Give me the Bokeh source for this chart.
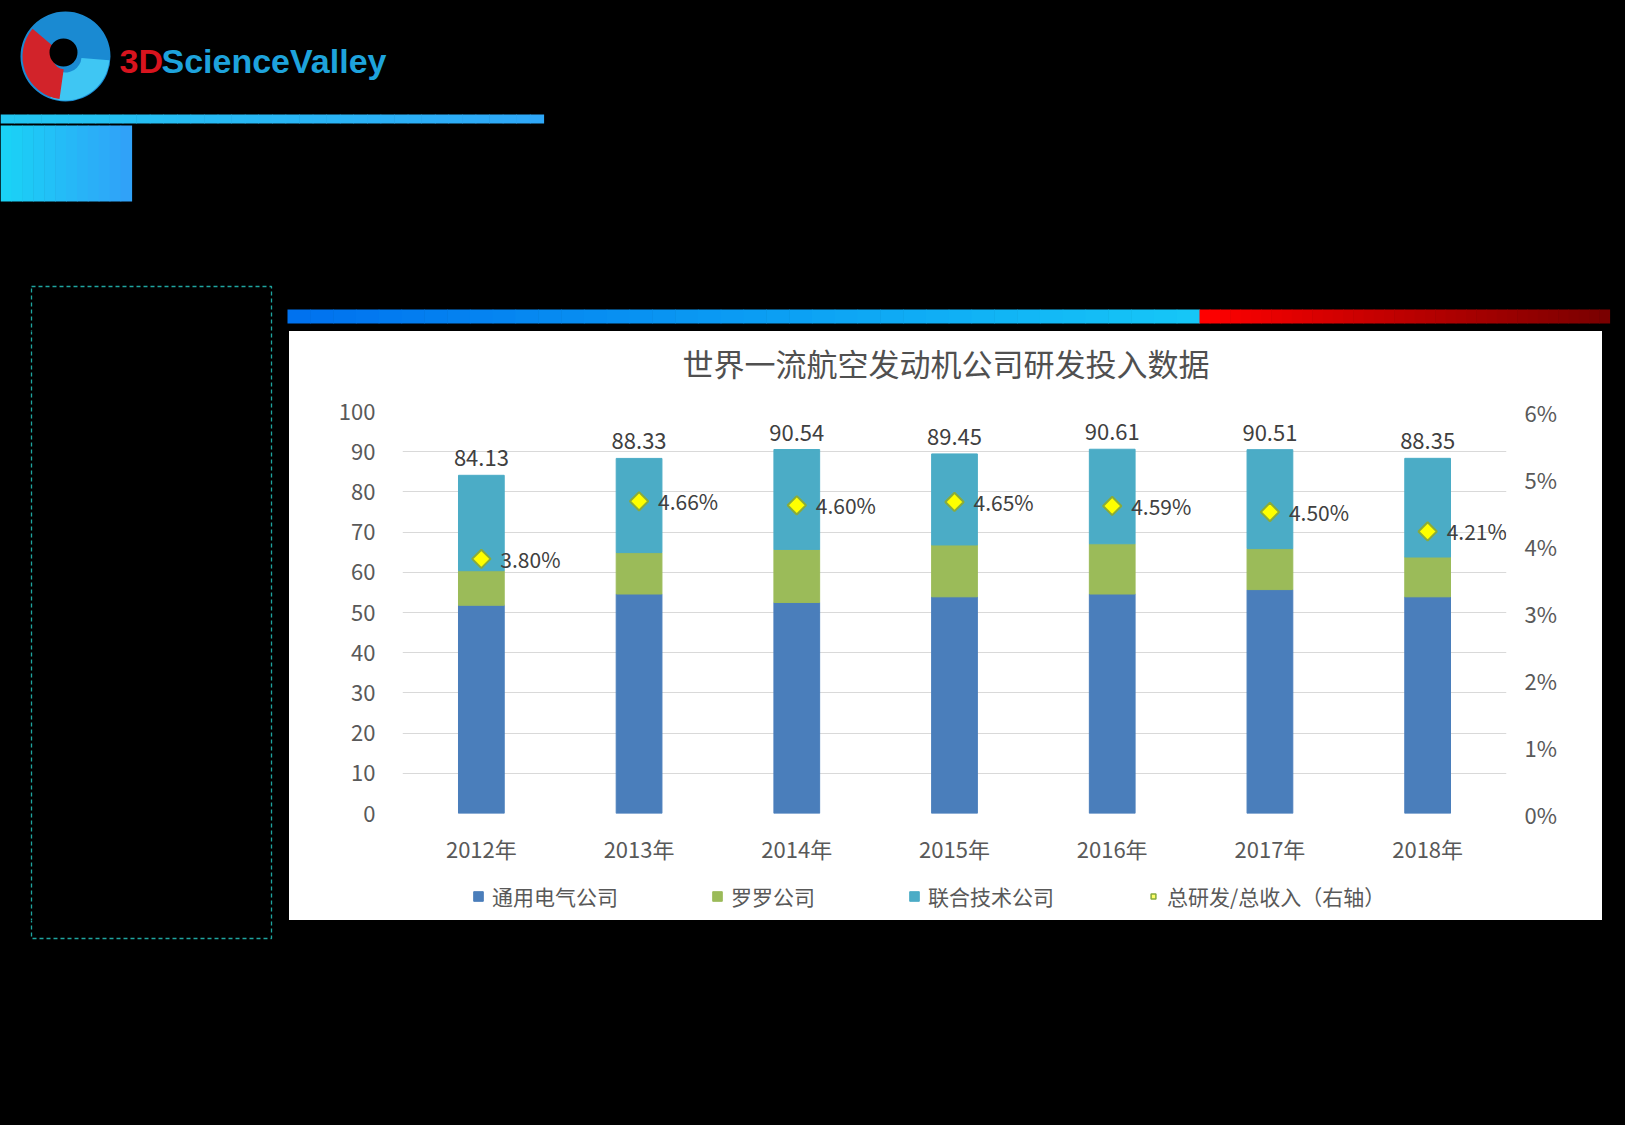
import numpy as np
from bokeh.core.properties import value
from bokeh.embed import file_html
from bokeh.layouts import column, row
from bokeh.models import (ColumnDataSource, FactorRange, FixedTicker, Legend,
                          LegendItem, LinearAxis, NumeralTickFormatter, Range1d)
from bokeh.plotting import figure
from bokeh.resources import INLINE

# --- chart data ---
TITLE = "世界一流航空发动机公司研发投入数据"
YEARS = ["2012年", "2013年", "2014年", "2015年", "2016年", "2017年", "2018年"]
SERIES = ["通用电气公司", "罗罗公司", "联合技术公司"]
RATIO_NAME = "总研发/总收入（右轴）"
GE = [51.8, 54.6, 52.5, 53.9, 54.6, 55.7, 53.9]
RR = [8.6, 10.3, 13.2, 12.9, 12.5, 10.2, 9.9]
UTC = [23.73, 23.43, 24.84, 22.65, 23.51, 24.61, 24.55]
TOTAL = [84.13, 88.33, 90.54, 89.45, 90.61, 90.51, 88.35]
RATIO = [0.0380, 0.0466, 0.0460, 0.0465, 0.0459, 0.0450, 0.0421]
LEFT_TICKS = [0, 10, 20, 30, 40, 50, 60, 70, 80, 90, 100]
RIGHT_TICKS = [0, 0.01, 0.02, 0.03, 0.04, 0.05, 0.06]

COLORS = ["#4a7ebb", "#9bbb59", "#4bacc6"]
TEXT = "#595959"
CJK = "Noto Sans CJK SC"
FONT = value(CJK)

PAGE_W = 1625


def blend(c1, c2, t):
    a = np.array([int(c1[i:i + 2], 16) for i in (1, 3, 5)])
    b = np.array([int(c2[i:i + 2], 16) for i in (1, 3, 5)])
    c = (a + (b - a) * t).round().astype(int)
    return "#%02x%02x%02x" % tuple(c)


def no_align(p):
    try:
        p.frame_align = False
    except AttributeError:
        pass
    return p


def pixel_fig(x0, y0, w, h, fill="black"):
    """Pixel-coordinate figure showing page region [x0, x0+w] x [y0, y0+h]."""
    p = figure(width=w, height=h, x_range=Range1d(x0, x0 + w),
               y_range=Range1d(y0 + h, y0), output_backend="svg",
               toolbar_location=None, x_axis_location=None, y_axis_location=None,
               min_border=0, background_fill_color=fill,
               border_fill_color=fill, outline_line_color=None)
    p.grid.visible = False
    return no_align(p)


def gradient_bar(p, x0, x1, y0, y1, c0, c1, n=40):
    edges = np.linspace(x0, x1, n + 1)
    cols = [blend(c0, c1, t) for t in np.linspace(0, 1, n)]
    p.quad(left=edges[:-1], right=edges[1:] + 0.6, top=y0, bottom=y1,
           fill_color=cols, line_color=None)


def dashed_box(p):
    p.quad(left=31, right=271, top=286, bottom=938, fill_color=None,
           line_color="#1fa5a0", line_width=1.3, line_dash="4 3")


# --- top strip: logo and bars ---
top = pixel_fig(0, 0, PAGE_W, 331)
top.circle(x=65, y=56, radius=45, fill_color="#1a8ad2", line_color=None)
top.annular_wedge(x=65, y=56, inner_radius=16, outer_radius=44,
                  start_angle=np.radians(250), end_angle=np.radians(355),
                  fill_color="#3fc6f3", line_color=None)
top.annular_wedge(x=65, y=56, inner_radius=13, outer_radius=43,
                  start_angle=np.radians(140), end_angle=np.radians(262),
                  fill_color="#d2232a", line_color=None)
top.circle(x=63, y=52, radius=14, fill_color="black", line_color=None)
top.text(x=[119], y=[60], text=["3D"], text_color="#d8141e",
         text_font=value("Liberation Sans"), text_font_style="bold",
         text_font_size="34px", text_baseline="middle")
top.text(x=[161], y=[60], text=["ScienceValley"], text_color="#1ea3dc",
         text_font=value("Liberation Sans"), text_font_style="bold",
         text_font_size="34px", text_baseline="middle")
gradient_bar(top, 0, 543, 114, 123, "#22c6f1", "#2fa8f8")
gradient_bar(top, 0, 131, 125, 201, "#1ad2f6", "#30a2f8", n=12)
gradient_bar(top, 287, 1199, 309, 323, "#0072ef", "#16c6f7")
gradient_bar(top, 1199, 1609, 309, 323, "#ff0000", "#7a0000")
dashed_box(top)

# --- side and bottom strips ---
left = pixel_fig(0, 331, 289, 589)
dashed_box(left)
right = pixel_fig(1602, 331, 23, 589)
bottom = pixel_fig(0, 920, PAGE_W, 205)
dashed_box(bottom)

# --- white chart panel: title strip, plot, legend strip ---
head = pixel_fig(289, 331, 1313, 63, fill="white")
head.text(x=[945.5], y=[362], text=[TITLE], text_align="center",
          text_baseline="middle", text_font=FONT, text_font_size="31px",
          text_color="#505050")

src = ColumnDataSource(dict(
    year=YEARS, ge=GE, rr=RR, utc=UTC, total=TOTAL,
    total_txt=[f"{v:.2f}" for v in TOTAL],
    ratio=RATIO, ratio_txt=[f"{v * 100:.2f}%" for v in RATIO],
))

p = figure(width=1313, height=481, x_range=FactorRange(factors=YEARS, range_padding=0),
           y_range=Range1d(0, 100), output_backend="svg", toolbar_location=None,
           min_border_left=113, min_border_right=96, min_border_top=17,
           min_border_bottom=62, background_fill_color="white",
           border_fill_color="white", outline_line_color=None)
no_align(p)
p.outline_line_alpha = 0

p.extra_y_ranges = {"pct": Range1d(0, 0.06)}
p.add_layout(LinearAxis(y_range_name="pct", ticker=FixedTicker(ticks=RIGHT_TICKS),
                        formatter=NumeralTickFormatter(format="0%")), "right")
p.yaxis[0].ticker = FixedTicker(ticks=LEFT_TICKS)
for ax in p.axis:
    ax.axis_line_color = None
    ax.axis_line_alpha = 0
    ax.major_tick_line_color = None
    ax.minor_tick_line_color = None
    ax.major_tick_out = 0
    ax.major_tick_in = 0
    ax.major_label_text_font = CJK
    ax.major_label_text_font_size = "22px"
    ax.major_label_text_color = TEXT
p.yaxis[0].major_label_standoff = 27
p.yaxis[1].major_label_standoff = 18
p.xaxis.major_label_standoff = 18

p.xgrid.visible = False
p.ygrid.grid_line_color = "#d9d9d9"
p.ygrid.grid_line_width = 1.2
p.ygrid.ticker = FixedTicker(ticks=LEFT_TICKS)

p.vbar_stack(["ge", "rr", "utc"], x="year", width=0.29, color=COLORS, source=src)
p.text(x="year", y="total", text="total_txt", source=src, text_align="center",
       text_baseline="middle", y_offset=-17, text_font=FONT,
       text_font_size="22px", text_color="#404040")
p.scatter(x="year", y="ratio", y_range_name="pct", source=src, marker="square",
          angle=np.pi / 4, size=13, fill_color="#ffff00",
          line_color="#88ab3c", line_width=2)
p.text(x="year", y="ratio", text="ratio_txt", y_range_name="pct", source=src,
       x_offset=19, text_align="left", text_baseline="middle", text_font=FONT,
       text_font_size="21px", text_color="#404040")

# legend strip: key glyphs in the chart's styles (their one point is NaN, so
# nothing is drawn in the strip itself)
foot = pixel_fig(289, 875, 1313, 45, fill="white")
proxy = ColumnDataSource(dict(x=[float("nan")], y=[float("nan")]))
keys = [foot.vbar(x="x", top="y", width=1, color=c, source=proxy) for c in COLORS]
mark = foot.scatter(x="x", y="y", source=proxy, marker="square", angle=np.pi / 4,
                    size=8, fill_color="#ffff66", line_color="#88ab3c", line_width=1.5)
items = [LegendItem(label=name, renderers=[r]) for name, r in zip(SERIES, keys)]
items.append(LegendItem(label=RATIO_NAME, renderers=[mark]))
foot.add_layout(Legend(items=items, orientation="horizontal", location=(183, 9),
                       label_text_font=CJK, label_text_font_size="21px",
                       label_text_color=TEXT, glyph_width=12, glyph_height=12,
                       label_standoff=8, spacing=93, padding=0, margin=0,
                       border_line_color=None, background_fill_alpha=0))

panel = column(head, p, foot, styles={"background-color": "white"})
page = column(top, row(left, panel, right), bottom)
try:
    from bokeh.models import GlobalInlineStyleSheet
    page.stylesheets = [GlobalInlineStyleSheet(css="body { background: #000; }")]
except ImportError:
    pass

open("out.html", "w").write(file_html(page, INLINE))
